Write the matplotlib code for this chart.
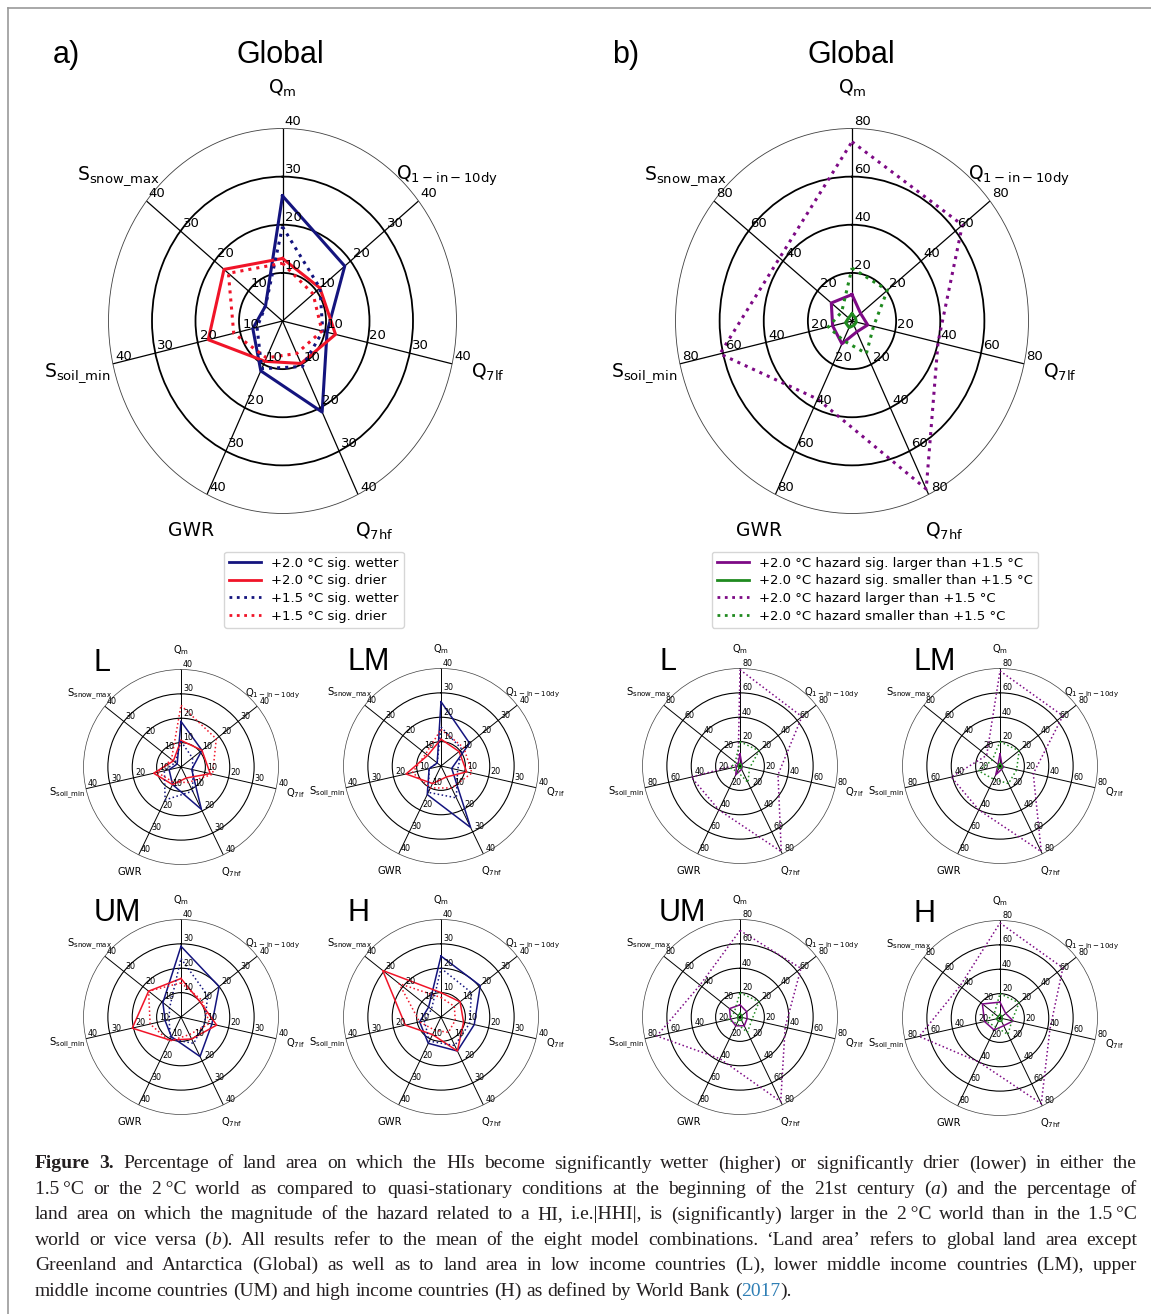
import re

import numpy as np
import matplotlib
matplotlib.use('Agg')
import matplotlib.pyplot as plt
from matplotlib.lines import Line2D

plt.rcParams['mathtext.default'] = 'regular'

W, H = 1151, 1314

spokes = [r'$Q_m$', r'$Q_{1-in-10dy}$', r'$Q_{7lf}$', r'$Q_{7hf}$', 'GWR',
          r'$S_{soil\_min}$', r'$S_{snow\_max}$']
regions = ['Global', 'L', 'LM', 'UM', 'H']

# a) percentage of land area, order of spokes above
wet_20 = {
    'Global': [26, 18.3, 10.5, 21, 11.5, 7, 5],
    'L': [18.7, 11, 4.5, 19.3, 8, 5, 2],
    'LM': [26.4, 15, 4.5, 28, 13, 5, 2],
    'UM': [29, 20, 13, 18, 9, 6.7, 9.5],
    'H': [25, 20.6, 14, 15.5, 12, 9, 6.5],
}
dry_20 = {
    'Global': [13, 11, 12.5, 9.8, 9.3, 17.5, 17.2],
    'L': [10.9, 11, 12.3, 5, 8, 11.5, 4],
    'LM': [11, 9.5, 10.8, 5, 8, 14.7, 7],
    'UM': [15.8, 10, 15, 10, 10.5, 20.5, 17],
    'H': [10, 10, 9.5, 15.5, 8, 15, 30.6],
}
wet_15 = {
    'Global': [19.6, 11, 9.5, 10.5, 11, 6, 5],
    'L': [10.5, 6, 5, 11, 15, 7, 3],
    'LM': [16, 11, 7, 14.5, 12, 5, 2],
    'UM': [24, 14, 10, 12, 10, 5, 6],
    'H': [20, 16, 12, 13, 11, 7, 5],
}
dry_15 = {
    'Global': [12, 9, 9.3, 7.5, 8.5, 11.5, 15.9],
    'L': [25.3, 18.5, 13.3, 7, 7, 10, 5],
    'LM': [15, 12, 13, 10, 10, 12, 8],
    'UM': [14, 11, 12, 8, 11, 13, 17],
    'H': [8, 7, 6, 7, 6, 9, 22],
}

# b) hazard magnitude in +2.0 vs +1.5 world
sig_larger = {
    'Global': [11, 5, 7.3, 5, 10.5, 9, 12],
    'L': [10, 2, 2, 3, 8, 3, 2],
    'LM': [10, 2, 3, 3, 8, 2, 2],
    'UM': [10, 7, 6, 8, 8, 8, 11],
    'H': [13, 6, 11, 7, 11, 13, 18.5],
}
sig_smaller = {
    'Global': [3, 2, 2, 2, 3, 3, 2],
    'L': [2, 1.5, 1.5, 2, 2, 1.5, 1.5],
    'LM': [2, 1.5, 2, 2, 2, 2, 1.5],
    'UM': [3, 2, 2, 3, 3, 2, 2],
    'H': [3, 2, 2, 3, 3, 3, 2],
}
larger = {
    'Global': [74.5, 64, 40, 77.5, 36, 61.4, 42],
    'L': [79, 65, 32, 78, 40, 41, 2],
    'LM': [78, 66, 28, 78, 40, 41, 14],
    'UM': [71, 64, 38, 77, 38, 70, 42],
    'H': [78, 66, 42, 78, 40, 68, 42],
}
smaller = {
    'Global': [22, 20.5, 10, 15, 9, 11, 6],
    'L': [20, 20, 8, 15, 5, 8, 5],
    'LM': [20, 20, 14, 16, 12, 18, 8],
    'UM': [20, 20, 10, 14, 6, 10, 6],
    'H': [20, 20, 10, 15, 8, 12, 6],
}

legend_a = ['+2.0 °C sig. wetter', '+2.0 °C sig. drier',
            '+1.5 °C sig. wetter', '+1.5 °C sig. drier']
legend_b = ['+2.0 °C hazard sig. larger than +1.5 °C',
            '+2.0 °C hazard sig. smaller than +1.5 °C',
            '+2.0 °C hazard larger than +1.5 °C',
            '+2.0 °C hazard smaller than +1.5 °C']

caption = [
    '<b>Figure 3.</b> Percentage of land area on which the HIs become significantly wetter (higher) or significantly drier (lower) in either the',
    '1.5\u2009°C or the 2\u2009°C world as compared to quasi-stationary conditions at the beginning of the 21st century (<i>a</i>) and the percentage of',
    'land area on which the magnitude of the hazard related to a HI, i.e.|HHI|, is (significantly) larger in the 2\u2009°C world than in the 1.5\u2009°C',
    'world or vice versa (<i>b</i>). All results refer to the mean of the eight model combinations. \u2018Land area\u2019 refers to global land area except',
    'Greenland and Antarctica (Global) as well as to land area in low income countries (L), lower middle income countries (LM), upper',
    'middle income countries (UM) and high income countries (H) as defined by World Bank (<c>2017</c>).',
]

NAVY, RED = '#14147e', '#f01428'
PURPLE, GREEN = '#7d0a85', '#1f8a1f'

angles = np.arange(len(spokes)) * 2 * np.pi / len(spokes)


def px_rect(cx, cy, rx, ry):
    return [(cx - rx) / W, 1 - (cy + ry) / H, 2 * rx / W, 2 * ry / H]


def radar(rect, rmax, series, big):
    ax = fig.add_axes(rect, projection='polar')
    ax.set_aspect('auto')
    ax.set_theta_offset(np.pi / 2)
    ax.set_theta_direction(-1)
    ax.set_ylim(0, rmax)
    step = rmax / 4
    ax.set_xticks(angles)
    ax.set_xticklabels([])
    ax.set_yticks([step, 2 * step, 3 * step])
    ax.set_yticklabels([])
    ax.tick_params(length=0)
    ax.xaxis.grid(True, color='black', lw=0.9 if big else 0.7)
    ax.yaxis.grid(True, color='black', lw=1.3 if big else 0.8)
    ax.spines['polar'].set_linewidth(0.6 if big else 0.5)
    ax.spines['polar'].set_color('0.25')
    ax.set_facecolor('none')

    lw = 2.2 if big else 1.1
    for vals, color, ls in series:
        th = np.r_[angles, angles[0]]
        rr = np.r_[vals, vals[0]]
        ax.plot(th, rr, color=color, ls=ls, lw=lw, clip_on=False, zorder=3)

    tick_fs = 9.5 if big else 5.8
    for th in angles:
        for k in range(1, 5):
            ax.annotate(f'{int(k * step)}', xy=(th, k * step), xytext=(1.5, 0.5),
                        textcoords='offset points', ha='left', va='bottom',
                        fontsize=tick_fs, zorder=4, annotation_clip=False)
    lab_fs = 13.5 if big else 7.2
    for th, lab in zip(angles, spokes):
        ax.text(th, rmax * (1.21 if big else 1.2), lab, ha='center', va='center',
                fontsize=lab_fs, clip_on=False)
    return ax


def draw_caption(lines, x0, x1, y0, dy, size):
    renderer = fig.canvas.get_renderer()
    serif = ['Liberation Serif', 'DejaVu Serif']
    styles = {'': {}, 'b': {'weight': 'bold'}, 'i': {'style': 'italic'},
              'c': {'color': '#2f7fb5'}}
    space = 0.25 * size * 100 / 72
    for n, line in enumerate(lines):
        runs = []
        for m in re.finditer(r'<(b|i|c)>(.*?)</\1>|([^<]+)', line):
            if m.group(3) is not None:
                runs.append(('', m.group(3)))
            else:
                runs.append((m.group(1), m.group(2)))
        words = [[]]
        for st, txt in runs:
            for k, p in enumerate(txt.split(' ')):
                if k > 0:
                    words.append([])
                if p:
                    words[-1].append((st, p))
        words = [w for w in words if w]
        y = 1 - (y0 + n * dy) / H
        items, total = [], 0
        for w in words:
            pieces = []
            for st, p in w:
                kw = dict(styles[st])
                kw.setdefault('color', '#231f20')
                t = fig.text(0, y, p, fontsize=size, family=serif, va='center',
                             ha='left', **kw)
                wd = t.get_window_extent(renderer).width
                pieces.append((t, wd))
                total += wd
            items.append(pieces)
        if n < len(lines) - 1 and len(items) > 1:
            gap = (x1 - x0 - total) / (len(items) - 1)
        else:
            gap = space
        x = x0
        for pieces in items:
            for t, wd in pieces:
                t.set_x(x / W)
                x += wd
            x += gap


fig = plt.figure(figsize=(W / 100, H / 100), dpi=100)

# page frame
fig.add_artist(Line2D([8 / W, 8 / W], [0, 1 - 8 / H], transform=fig.transFigure,
                      color='0.6', lw=1.2))
fig.add_artist(Line2D([8 / W, 1], [1 - 8 / H, 1 - 8 / H], transform=fig.transFigure,
                      color='0.6', lw=1.2))


def series_a(reg):
    return [(wet_20[reg], NAVY, '-'), (dry_20[reg], RED, '-'),
            (wet_15[reg], NAVY, ':'), (dry_15[reg], RED, ':')]


def series_b(reg):
    return [(sig_larger[reg], PURPLE, '-'), (sig_smaller[reg], GREEN, '-'),
            (larger[reg], PURPLE, ':'), (smaller[reg], GREEN, ':')]


# big panels
radar(px_rect(282.5, 321, 174, 192.5), 40, series_a('Global'), True)
radar(px_rect(852, 321, 176.5, 192.5), 80, series_b('Global'), True)

title_kw = dict(fontsize=22, family='Liberation Sans', va='center')
fig.text(53 / W, 1 - 55 / H, 'a)', ha='left', **title_kw)
fig.text(280 / W, 1 - 55 / H, 'Global', ha='center', **title_kw)
fig.text(612 / W, 1 - 55 / H, 'b)', ha='left', **title_kw)
fig.text(851 / W, 1 - 55 / H, 'Global', ha='center', **title_kw)

# small panels
small_a = {'L': (181, 767), 'LM': (441, 766), 'UM': (181, 1017), 'H': (441, 1017)}
small_b = {'L': (740, 766), 'LM': (1000, 766), 'UM': (740, 1017), 'H': (1000, 1018)}
tag_x_a = {'L': 94, 'LM': 347, 'UM': 94, 'H': 347}
tag_x_b = {'L': 659, 'LM': 913, 'UM': 659, 'H': 913}
for reg in regions[1:]:
    cx, cy = small_a[reg]
    radar(px_rect(cx, cy, 97.5, 97.5), 40, series_a(reg), False)
    fig.text(tag_x_a[reg] / W, 1 - (cy - 104) / H, reg, ha='left', **title_kw)
    cx, cy = small_b[reg]
    radar(px_rect(cx, cy, 97.5, 97.5), 80, series_b(reg), False)
    fig.text(tag_x_b[reg] / W, 1 - (cy - 104) / H, reg, ha='left', **title_kw)

# legends
handles_a = [Line2D([], [], color=NAVY, lw=2), Line2D([], [], color=RED, lw=2),
             Line2D([], [], color=NAVY, lw=2, ls=':'), Line2D([], [], color=RED, lw=2, ls=':')]
handles_b = [Line2D([], [], color=PURPLE, lw=2), Line2D([], [], color=GREEN, lw=2),
             Line2D([], [], color=PURPLE, lw=2, ls=':'), Line2D([], [], color=GREEN, lw=2, ls=':')]
fig.legend(handles_a, legend_a, loc='upper center', bbox_to_anchor=(314 / W, 1 - 545 / H),
           fontsize=9.5, handlelength=2.4, labelspacing=0.35, borderpad=0.4)
fig.legend(handles_b, legend_b, loc='upper center', bbox_to_anchor=(875 / W, 1 - 545 / H),
           fontsize=9.5, handlelength=2.4, labelspacing=0.35, borderpad=0.4)

draw_caption(caption, 35, 1137, 1164, 25.4, 14)

fig.savefig('out.png', dpi=100)
